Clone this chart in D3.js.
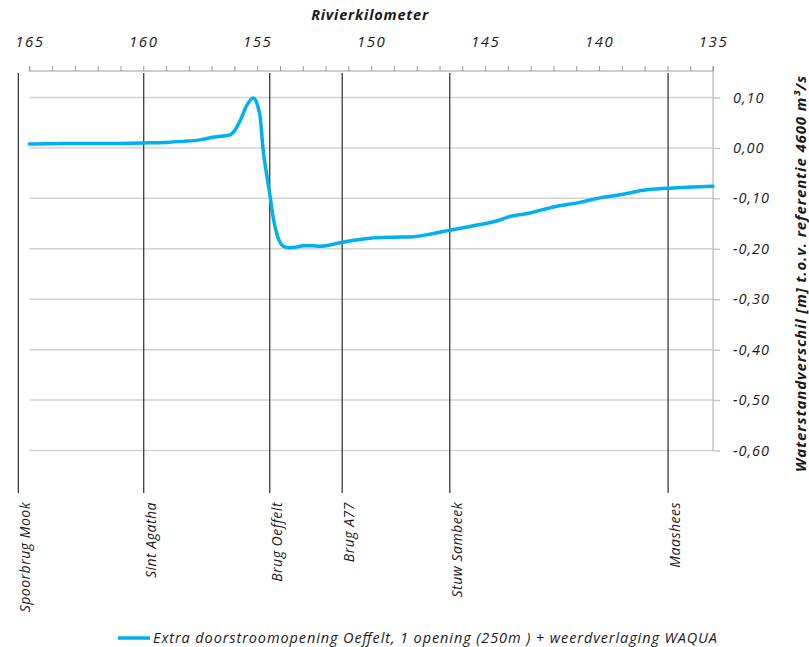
<!DOCTYPE html>
<html>
<head>
<meta charset="utf-8">
<script src="https://cdn.jsdelivr.net/npm/d3@7"></script>
<style>
  html, body { margin: 0; padding: 0; background: #fff; }
  svg { display: block; }
  text { font-family: "Open Sans", "DejaVu Sans", sans-serif; font-style: italic; fill: #1a1a1a; }
</style>
</head>
<body>
<svg id="chart" width="809" height="647"></svg>
<script>
// River kilometre (x) and water level difference in metres (y)
const km = [165.0, 163.5, 161.9, 160.0, 159.0, 158.25, 157.5, 156.94, 156.63, 156.19, 156.05,
  155.75, 155.46, 155.17, 154.88, 154.73, 154.58, 154.44, 154.29, 154.14, 154.0, 153.85,
  153.64, 153.3, 152.99, 152.6, 152.24, 151.27, 150.05, 149.0, 148.15, 147.42, 146.54,
  145.22, 144.5, 143.91, 143.03, 142.01, 140.84, 139.96, 138.94, 138.06, 137.03, 136.15, 135.0];
const diff = [0.008, 0.009, 0.009, 0.010, 0.011, 0.013, 0.016, 0.021, 0.023, 0.026, 0.031,
  0.054, 0.084, 0.099, 0.064, -0.008, -0.054, -0.094, -0.140, -0.170, -0.187, -0.195,
  -0.198, -0.197, -0.194, -0.194, -0.195, -0.187, -0.179, -0.177, -0.176, -0.171, -0.163,
  -0.152, -0.145, -0.136, -0.129, -0.117, -0.108, -0.099, -0.092, -0.084, -0.080, -0.078, -0.076];

// Landmarks along the river
const landmarkNames = ["Spoorbrug Mook", "Sint Agatha", "Brug Oeffelt", "Brug A77", "Stuw Sambeek", "Maashees"];
const landmarkKm = [165.48, 159.98, 154.45, 151.27, 146.55, 136.97];

const kmTicks = d3.range(165, 134, -1);
const kmLabels = [165, 160, 155, 150, 145, 140, 135];
const yTicks = [0.10, 0.00, -0.10, -0.20, -0.30, -0.40, -0.50, -0.60];

const xTitle = "Rivierkilometer";
const yTitle = "Waterstandverschil [m] t.o.v. referentie 4600 m³/s";
const seriesName = "Extra doorstroomopening Oeffelt, 1 opening (250m ) + weerdverlaging WAQUA";

const svg = d3.select("#chart");
const left = 29.3, right = 713, plotTop = 71;

const x = d3.scaleLinear().domain([165, 135]).range([left, right]);
const y = d3.scaleLinear().domain([-0.6, 0.1]).range([450.5, 97.5]);

// horizontal gridlines
svg.append("g")
  .selectAll("line")
  .data(yTicks)
  .join("line")
  .attr("x1", left).attr("x2", right)
  .attr("y1", d => y(d)).attr("y2", d => y(d))
  .attr("stroke", "#d4d4d4").attr("stroke-width", 1.5);

// right value axis
const yAxis = svg.append("g")
  .attr("transform", `translate(${right},0)`)
  .call(d3.axisRight(y).tickValues(yTicks).tickSize(7).tickPadding(13)
    .tickFormat(d => d3.format(".2f")(d).replace(".", ",").replace("−", "-")));
yAxis.select(".domain").remove();
yAxis.selectAll(".tick line").attr("stroke", "#c8c8c8").attr("stroke-width", 1.5);
yAxis.selectAll(".tick text").attr("font-size", 14.5).attr("fill", "#1a1a1a")
  .attr("letter-spacing", 1)
  .style("font-family", "'Open Sans', sans-serif").style("font-style", "italic");

// right border of the plot area
svg.append("line")
  .attr("x1", right).attr("x2", right)
  .attr("y1", plotTop - 5).attr("y2", y(-0.6))
  .attr("stroke", "#bdbdbd").attr("stroke-width", 1.3);

// top kilometre axis
const xAxis = svg.append("g")
  .attr("transform", `translate(0,${plotTop})`)
  .call(d3.axisTop(x).tickValues(kmTicks).tickSize(5).tickPadding(19)
    .tickFormat(d => kmLabels.includes(d) ? String(d) : ""));
xAxis.select(".domain").attr("stroke", "#bdbdbd").attr("stroke-width", 1.3)
  .attr("d", `M${left},-5V0H${right}V-5`);
xAxis.selectAll(".tick line").attr("stroke", "#9a9a9a");
xAxis.selectAll(".tick text").attr("font-size", 15).attr("fill", "#1a1a1a")
  .attr("letter-spacing", 1.5)
  .style("font-family", "'Open Sans', sans-serif").style("font-style", "italic");

// landmark lines and labels
const lm = svg.append("g");
landmarkNames.forEach((name, i) => {
  const lx = x(landmarkKm[i]);
  lm.append("line")
    .attr("x1", lx).attr("x2", lx)
    .attr("y1", 73).attr("y2", 493)
    .attr("stroke", "#3a3a3a").attr("stroke-width", 1.3);
  lm.append("text")
    .attr("transform", `translate(${lx + 12},502) rotate(-90)`)
    .attr("text-anchor", "end")
    .attr("font-size", 14)
    .attr("letter-spacing", 0.5)
    .text(name);
});

// series line
const line = d3.line()
  .x((d, i) => x(km[i]))
  .y((d, i) => y(diff[i]))
  .curve(d3.curveMonotoneX);
svg.append("path")
  .datum(diff)
  .attr("d", line)
  .attr("fill", "none")
  .attr("stroke", "#00b0f0")
  .attr("stroke-width", 3.5)
  .attr("stroke-linejoin", "round")
  .attr("stroke-linecap", "round");

// axis titles
svg.append("text")
  .attr("x", 370).attr("y", 20)
  .attr("text-anchor", "middle")
  .attr("font-size", 14.5).attr("font-weight", "bold")
  .attr("letter-spacing", 0.8)
  .text(xTitle);

svg.append("text")
  .attr("transform", "translate(806,274) rotate(-90)")
  .attr("text-anchor", "middle")
  .attr("font-size", 15).attr("font-weight", "bold")
  .attr("textLength", 396).attr("lengthAdjust", "spacing")
  .text(yTitle);

// legend
svg.append("line")
  .attr("x1", 118).attr("x2", 150)
  .attr("y1", 638).attr("y2", 638)
  .attr("stroke", "#00b0f0").attr("stroke-width", 3.5);
svg.append("text")
  .attr("x", 153).attr("y", 643)
  .attr("font-size", 14.5)
  .attr("textLength", 564).attr("lengthAdjust", "spacing")
  .text(seriesName);
</script>
</body>
</html>
